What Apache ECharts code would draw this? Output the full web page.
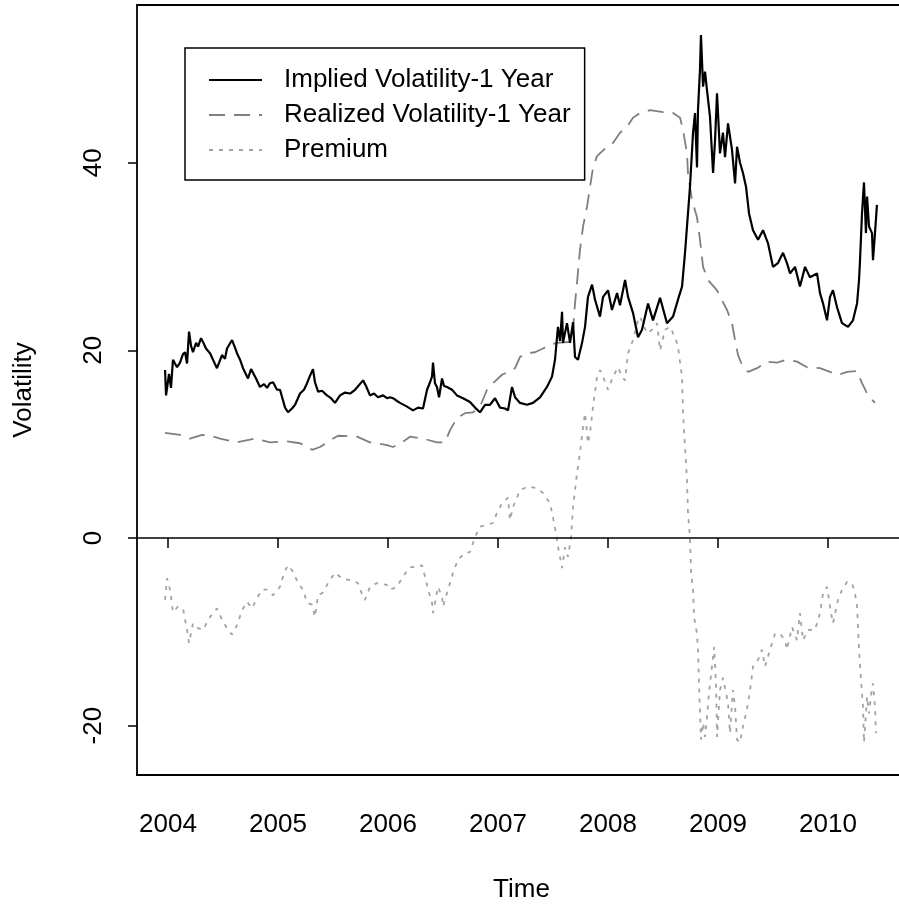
<!DOCTYPE html>
<html><head><meta charset="utf-8">
<script src="https://cdn.jsdelivr.net/npm/echarts@6/dist/echarts.min.js"></script>
<style>html,body{margin:0;padding:0;background:#fff}#c{width:899px;height:907px}</style>
</head><body><div id="c"></div>
<script>
const xTicks = [2004, 2005, 2006, 2007, 2008, 2009, 2010];
const yTicks = [-20, 0, 20, 40];
const seriesNames = ['Implied Volatility-1 Year', 'Realized Volatility-1 Year', 'Premium'];

const impliedT = [2003.973,2003.982,2004.009,2004.027,2004.045,2004.082,2004.109,2004.136,2004.155,2004.173,
2004.191,2004.209,2004.227,2004.255,2004.273,2004.300,2004.318,2004.345,2004.382,2004.409,
2004.445,2004.491,2004.518,2004.536,2004.582,2004.609,2004.627,2004.655,2004.682,2004.727,
2004.755,2004.773,2004.800,2004.836,2004.873,2004.900,2004.927,2004.955,2004.991,2005.018,
2005.064,2005.091,2005.127,2005.155,2005.200,2005.236,2005.264,2005.291,2005.309,2005.318,
2005.336,2005.364,2005.400,2005.445,2005.482,2005.518,2005.564,2005.609,2005.655,2005.700,
2005.718,2005.773,2005.800,2005.836,2005.873,2005.909,2005.955,2005.991,2006.018,2006.045,
2006.082,2006.109,2006.173,2006.227,2006.273,2006.318,2006.355,2006.382,2006.400,2006.409,
2006.427,2006.445,2006.464,2006.491,2006.509,2006.536,2006.582,2006.627,2006.682,2006.745,
2006.791,2006.836,2006.882,2006.927,2006.973,2007.018,2007.064,2007.091,2007.127,2007.155,
2007.200,2007.264,2007.318,2007.382,2007.445,2007.491,2007.518,2007.545,2007.564,2007.582,
2007.591,2007.627,2007.655,2007.682,2007.700,2007.727,2007.764,2007.791,2007.818,2007.855,
2007.882,2007.927,2007.955,2008.000,2008.036,2008.082,2008.109,2008.155,2008.182,2008.227,
2008.273,2008.309,2008.364,2008.409,2008.473,2008.536,2008.591,2008.636,2008.673,2008.700,
2008.727,2008.745,2008.773,2008.791,2008.809,2008.818,2008.836,2008.845,2008.864,2008.882,
2008.900,2008.927,2008.955,2008.973,2008.991,2009.018,2009.045,2009.064,2009.091,2009.127,
2009.155,2009.173,2009.200,2009.227,2009.255,2009.282,2009.318,2009.364,2009.409,2009.455,
2009.500,2009.545,2009.591,2009.627,2009.655,2009.700,2009.745,2009.791,2009.836,2009.900,
2009.927,2009.955,2009.991,2010.018,2010.045,2010.082,2010.127,2010.182,2010.227,2010.264,
2010.282,2010.291,2010.309,2010.327,2010.345,2010.355,2010.373,2010.400,2010.409,2010.427,
2010.445];
const impliedV = [17.9,15.2,17.5,16.0,19.0,18.2,18.7,19.6,19.8,18.6,
22.0,20.5,19.8,20.8,20.4,21.3,20.9,20.2,19.7,19.0,
18.1,19.5,19.1,20.2,21.1,20.3,19.7,19.0,18.1,17.0,
18.0,18.1,17.0,16.1,16.4,16.0,16.5,16.6,15.8,15.8,
13.9,13.4,13.8,14.2,15.4,15.8,16.5,17.3,17.4,18.0,
16.6,15.6,15.7,15.2,14.9,14.4,15.2,15.5,15.4,15.8,
15.6,16.8,16.2,15.2,15.4,15.0,15.2,14.9,15.0,14.9,
14.6,14.4,14.0,13.6,13.9,13.8,15.8,16.6,17.2,18.7,
16.5,16.1,15.0,17.0,16.2,16.1,15.8,15.2,14.9,14.5,
13.9,13.4,14.2,14.2,14.9,13.9,13.8,13.6,16.1,15.0,
14.4,14.2,14.4,15.0,16.1,17.2,19.0,22.5,21.0,24.1,
20.8,22.9,20.8,23.0,19.3,19.0,20.8,22.5,25.7,27.0,
25.4,23.6,25.7,26.4,24.3,26.1,24.8,27.5,25.7,24.0,
21.4,22.2,25.0,23.2,25.6,22.9,23.6,25.4,26.8,30.4,
34.6,37.4,43.2,45.3,39.5,45.6,49.9,53.6,48.1,49.7,
47.7,44.9,38.9,42.4,47.4,41.0,43.2,40.6,44.2,41.4,
37.8,41.7,40.0,38.9,37.4,34.6,32.8,31.8,32.8,31.4,
28.9,29.3,30.4,29.3,28.2,28.9,26.8,28.9,27.8,28.2,
26.1,25.0,23.2,25.7,26.4,24.6,22.9,22.5,23.2,25.0,
27.5,29.6,34.6,37.9,32.5,36.4,33.2,32.5,29.6,32.5,
35.5];

const realizedT = [2003.973,2004.109,2004.200,2004.309,2004.382,2004.473,2004.627,2004.791,2004.927,2005.082,
2005.200,2005.309,2005.382,2005.473,2005.545,2005.718,2005.836,2005.991,2006.045,2006.127,
2006.200,2006.318,2006.445,2006.518,2006.564,2006.627,2006.700,2006.773,2006.836,2006.900,
2006.955,2007.036,2007.091,2007.155,2007.200,2007.264,2007.336,2007.409,2007.473,2007.536,
2007.655,2007.682,2007.700,2007.718,2007.745,2007.773,2007.809,2007.836,2007.864,2007.900,
2007.991,2008.045,2008.109,2008.173,2008.227,2008.291,2008.382,2008.500,2008.591,2008.655,
2008.682,2008.718,2008.727,2008.745,2008.764,2008.809,2008.836,2008.864,2008.909,2008.991,
2009.082,2009.127,2009.155,2009.182,2009.227,2009.273,2009.355,2009.445,2009.536,2009.627,
2009.718,2009.809,2009.927,2010.018,2010.091,2010.173,2010.264,2010.309,2010.364,2010.427];
const realizedV = [11.2,11.0,10.6,11.0,10.9,10.6,10.2,10.6,10.2,10.3,
10.1,9.4,9.7,10.4,10.9,10.8,10.2,9.9,9.7,10.2,
10.8,10.6,10.2,10.2,11.5,12.8,13.3,13.4,14.0,15.8,
16.5,17.4,17.7,18.1,19.3,19.7,19.8,20.2,20.6,20.8,
20.9,22.2,25.0,27.2,30.7,33.2,35.3,37.4,39.5,40.7,
41.7,42.1,43.2,43.8,44.8,45.3,45.6,45.4,45.3,44.8,
43.5,41.0,38.9,37.4,36.0,34.2,31.8,28.9,27.5,26.4,
24.3,22.9,21.1,19.5,18.2,17.7,18.1,18.8,18.7,19.0,
18.8,18.2,18.1,17.7,17.4,17.7,17.8,16.5,15.2,14.4];

const premiumT = [2003.973,2003.991,2004.018,2004.045,2004.091,2004.136,2004.173,2004.191,2004.227,2004.273,
2004.318,2004.382,2004.445,2004.491,2004.545,2004.582,2004.627,2004.673,2004.718,2004.764,
2004.809,2004.855,2004.900,2004.955,2005.018,2005.055,2005.091,2005.136,2005.182,2005.227,
2005.264,2005.309,2005.336,2005.364,2005.409,2005.455,2005.518,2005.582,2005.655,2005.727,
2005.773,2005.791,2005.836,2005.900,2005.991,2006.018,2006.082,2006.136,2006.200,2006.264,
2006.309,2006.336,2006.364,2006.400,2006.409,2006.455,2006.491,2006.500,2006.545,2006.591,
2006.636,2006.700,2006.745,2006.791,2006.836,2006.900,2006.955,2006.991,2007.036,2007.091,
2007.109,2007.136,2007.200,2007.273,2007.355,2007.409,2007.473,2007.500,2007.527,2007.545,
2007.582,2007.609,2007.636,2007.664,2007.682,2007.718,2007.745,2007.773,2007.791,2007.818,
2007.836,2007.864,2007.900,2007.927,2007.955,2008.000,2008.045,2008.091,2008.127,2008.155,
2008.182,2008.227,2008.273,2008.291,2008.355,2008.400,2008.445,2008.473,2008.518,2008.564,
2008.609,2008.636,2008.655,2008.673,2008.682,2008.700,2008.718,2008.727,2008.745,2008.755,
2008.773,2008.782,2008.809,2008.818,2008.827,2008.845,2008.864,2008.882,2008.900,2008.918,
2008.945,2008.964,2008.982,2008.991,2009.018,2009.045,2009.073,2009.091,2009.109,2009.136,
2009.155,2009.173,2009.200,2009.227,2009.255,2009.273,2009.300,2009.318,2009.364,2009.400,
2009.427,2009.473,2009.518,2009.564,2009.609,2009.627,2009.673,2009.718,2009.745,2009.773,
2009.818,2009.882,2009.927,2009.955,2009.991,2010.018,2010.045,2010.091,2010.127,2010.173,
2010.218,2010.245,2010.264,2010.282,2010.300,2010.318,2010.327,2010.355,2010.373,2010.400,
2010.409,2010.427,2010.436];
const premiumV = [-6.6,-4.3,-5.5,-7.9,-7.3,-7.5,-9.8,-11.2,-9.1,-9.6,
-9.8,-8.4,-7.5,-8.7,-9.8,-10.3,-9.3,-7.7,-6.8,-7.5,
-6.4,-5.5,-5.5,-6.1,-5.2,-3.7,-2.9,-3.6,-4.8,-5.5,
-6.9,-7.1,-8.4,-6.1,-5.8,-4.8,-3.7,-4.3,-4.5,-4.8,
-6.3,-6.6,-5.2,-4.8,-5.0,-5.5,-5.2,-4.1,-3.1,-3.1,
-2.9,-4.1,-5.5,-6.9,-8.0,-5.2,-6.3,-7.3,-5.5,-3.7,
-2.3,-1.6,-1.5,0.1,1.2,1.4,1.6,2.7,3.7,4.3,
1.9,3.3,5.1,5.5,5.3,4.8,3.7,2.2,0.5,-0.9,
-3.2,-1.0,-2.0,0.1,3.3,6.9,9.1,11.8,13.3,10.1,
11.2,14.0,17.2,17.9,17.2,15.8,17.2,18.2,17.2,16.8,
19.7,21.1,23.2,23.6,21.8,22.2,22.9,20.0,22.2,22.5,
21.4,20.4,18.7,17.2,13.3,9.7,6.2,2.7,0.1,-3.7,
-5.5,-8.4,-10.2,-11.9,-15.5,-21.5,-19.7,-21.2,-19.1,-16.5,
-13.7,-11.6,-15.5,-21.2,-16.2,-14.9,-16.5,-17.6,-20.8,-16.2,
-18.0,-21.5,-21.8,-20.1,-18.7,-17.6,-15.5,-13.7,-13.0,-11.9,
-13.7,-11.9,-10.2,-10.2,-10.9,-11.9,-9.5,-10.9,-8.0,-10.9,
-9.8,-9.8,-8.0,-5.9,-5.2,-7.3,-9.1,-6.6,-5.5,-4.7,
-4.8,-5.9,-7.3,-11.9,-15.1,-18.0,-21.8,-16.9,-18.7,-15.9,
-15.5,-18.0,-20.8];

const zip = (t, v) => t.map((x, i) => [x, v[i]]);
const FONT = "'Liberation Sans', Arial, Helvetica, sans-serif";
const chart = echarts.init(document.getElementById('c'), null, { renderer: 'canvas' });

chart.setOption({
  animation: false,
  backgroundColor: '#ffffff',
  color: ['#000000', '#7f7f7f', '#a3a3a3'],
  textStyle: { fontFamily: FONT },
  grid: {
    left: 137, top: 5, width: 769, height: 770,
    show: true, borderColor: '#000', borderWidth: 1.8, backgroundColor: 'transparent',
    containLabel: false, outerBoundsMode: 'none'
  },
  legend: {
    orient: 'vertical', left: 185, top: 48,
    padding: [19, 14, 17, 23],
    itemWidth: 53, itemHeight: 26, itemGap: 9,
    borderColor: '#000', borderWidth: 1.5,
    selectedMode: false,
    itemStyle: { color: 'rgba(0,0,0,0)', borderColor: 'rgba(0,0,0,0)', borderWidth: 0, opacity: 0 },
    textStyle: { fontSize: 26, color: '#000', fontFamily: FONT, lineHeight: 26, padding: [0, 0, 0, 17] },
    data: seriesNames
  },
  xAxis: {
    type: 'value', min: 2003.718, max: 2010.709,
    name: 'Time', nameLocation: 'middle', nameGap: 102,
    nameTextStyle: { fontSize: 26, color: '#000', fontFamily: FONT },
    axisLine: { show: false },
    splitLine: { show: false },
    axisTick: { show: true, inside: false, length: 10, customValues: xTicks, lineStyle: { color: '#000', width: 1.5 } },
    axisLabel: { customValues: xTicks, margin: 37, fontSize: 26, color: '#000', fontFamily: FONT, formatter: v => String(v) }
  },
  yAxis: {
    type: 'value', min: -25.26, max: 56.81,
    name: 'Volatility', nameLocation: 'middle', nameGap: 100,
    nameTextStyle: { fontSize: 26, color: '#000', fontFamily: FONT },
    axisLine: { show: false },
    splitLine: { show: false },
    axisTick: { show: true, inside: false, length: 9, customValues: yTicks, lineStyle: { color: '#000', width: 1.5 } },
    axisLabel: { customValues: yTicks, rotate: 90, margin: 30, fontSize: 26, color: '#000', fontFamily: FONT, formatter: v => String(v) }
  },
  series: [
    {
      name: seriesNames[0], type: 'line', data: zip(impliedT, impliedV),
      symbol: 'none', showSymbol: false, z: 4,
      itemStyle: { color: '#000' },
      lineStyle: { color: '#000', width: 2.2, type: 'solid' },
      markLine: {
        silent: true, symbol: ['none', 'none'], label: { show: false },
        lineStyle: { color: '#000', width: 1.6, type: 'solid' },
        data: [{ yAxis: 0 }]
      }
    },
    {
      name: seriesNames[1], type: 'line', data: zip(realizedT, realizedV),
      symbol: 'none', showSymbol: false, z: 3,
      itemStyle: { color: '#7f7f7f' },
      lineStyle: { color: '#7f7f7f', width: 1.8, type: [16, 9] }
    },
    {
      name: seriesNames[2], type: 'line', data: zip(premiumT, premiumV),
      symbol: 'none', showSymbol: false, z: 2,
      itemStyle: { color: '#a3a3a3' },
      lineStyle: { color: '#a3a3a3', width: 1.8, type: [4, 6] }
    }
  ]
});
</script></body></html>
